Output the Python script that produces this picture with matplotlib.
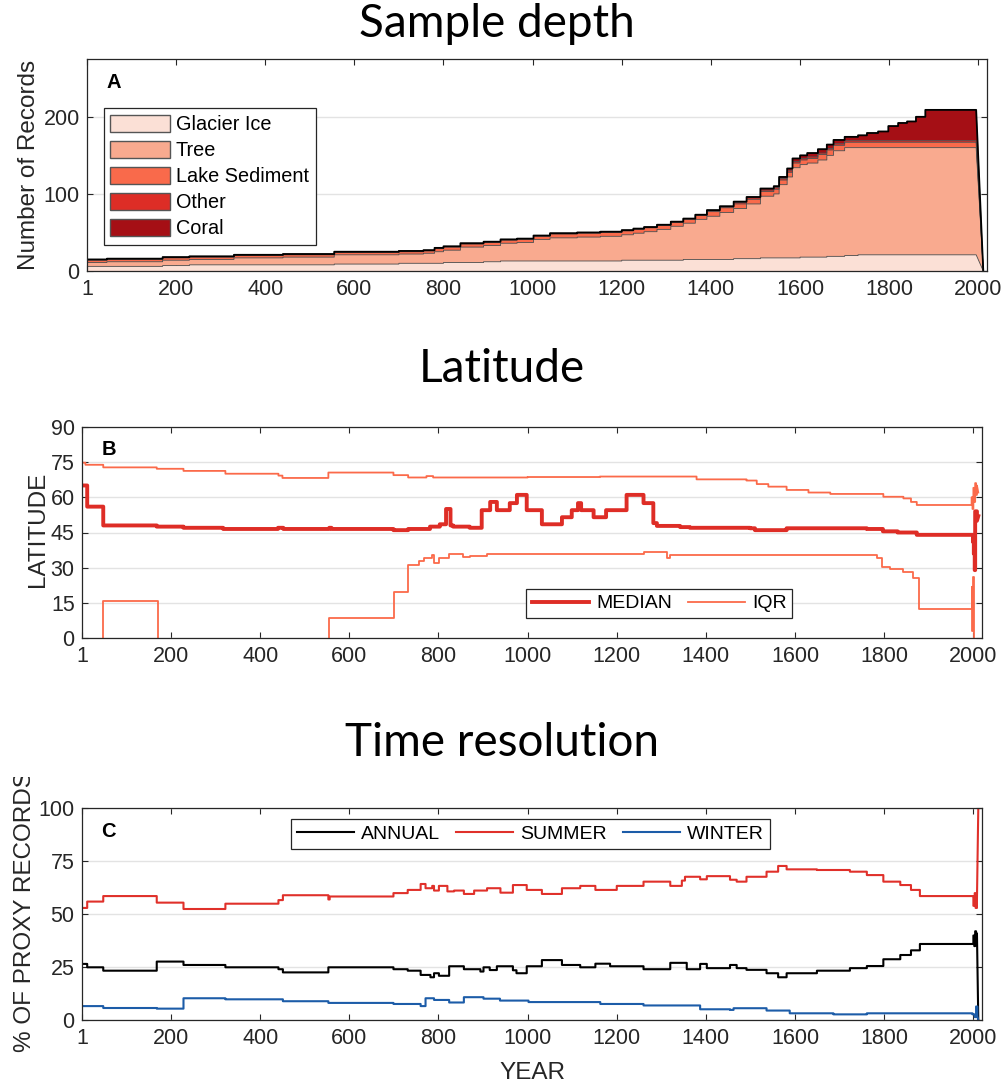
import numpy as np
import matplotlib
matplotlib.use("Agg")
import matplotlib.pyplot as plt
from matplotlib.patches import Patch
from matplotlib.lines import Line2D
from matplotlib.transforms import Bbox, TransformedBbox

plt.rcParams['font.family'] = ['Liberation Sans', 'DejaVu Sans']

# ---------------- A: sample depth (records per archive) ----------------
years_a = [1, 45, 170, 230, 330, 440, 555, 700, 755, 780, 800, 838, 890, 928, 965,
           1002, 1039, 1100, 1152, 1200, 1226, 1250, 1279, 1310, 1338, 1365, 1391,
           1420, 1451, 1480, 1511, 1541, 1553, 1571, 1583, 1600, 1616, 1640, 1660,
           1675, 1700, 1730, 1750, 1775, 1798, 1820, 1840, 1860, 1881, 1995, 2011]
glacier = [6, 6, 7, 8, 8, 8, 9, 10, 10, 10, 11, 11, 12, 13, 13,
           13, 13, 13, 13, 14, 14, 14, 14, 14, 15, 15, 15,
           15, 16, 16, 17, 17, 17, 17, 17, 18, 18, 18, 19,
           19, 20, 21, 21, 21, 21, 21, 21, 21, 21, 21, 0]
tree = [5, 6, 7, 7, 9, 10, 12, 12, 13, 15, 16, 20, 21, 23, 24,
        28, 30, 31, 32, 33, 35, 37, 40, 44, 47, 52, 56,
        61, 65, 71, 80, 83, 95, 105, 117, 120, 122, 126, 131,
        137, 140, 139, 139, 139, 139, 139, 139, 139, 139, 139, 0]
lake = [3, 3, 3, 3, 3, 3, 3, 3, 3, 4, 4, 4, 4, 4, 4,
        4, 5, 5, 5, 5, 5, 5, 5, 5, 5, 5, 6,
        6, 6, 6, 6, 6, 6, 6, 6, 6, 6, 7, 7,
        7, 7, 7, 7, 7, 7, 7, 7, 7, 7, 7, 0]
other = [1, 1, 1, 1, 1, 1, 1, 1, 1, 1, 1, 1, 1, 1, 1,
         1, 1, 1, 1, 1, 1, 1, 1, 1, 1, 1, 1,
         1, 2, 2, 2, 2, 2, 2, 2, 2, 2, 2, 2,
         2, 2, 2, 2, 2, 2, 2, 2, 2, 2, 2, 0]
coral = [0, 0, 0, 0, 0, 0, 0, 0, 0, 0, 0, 0, 0, 0, 0,
         0, 0, 0, 0, 0, 0, 0, 0, 0, 0, 0, 1,
         1, 1, 1, 2, 2, 2, 3, 4, 4, 5, 5, 5,
         5, 5, 7, 10, 12, 19, 23, 25, 31, 40, 40, 0]
archive_names = ['Glacier Ice', 'Tree', 'Lake Sediment', 'Other', 'Coral']
archive_colors = ['#fbe0d6', '#f9aa8f', '#f96a4b', '#dd2d26', '#a50f15']

# ---------------- B: latitude median and IQR ----------------
med_yr = [1, 12, 48, 168, 228, 317, 440, 452, 555, 560, 699, 732, 781, 803, 817,
          827, 833, 870, 897, 916, 931, 960, 976, 998, 1032, 1077, 1099, 1113,
          1120, 1148, 1176, 1222, 1260, 1282, 1290, 1342, 1364, 1499, 1510, 1581,
          1761, 1797, 1830, 1873, 1996, 1999, 2001, 2003, 2004, 2008, 2011]
med_lat = [65, 56, 48, 47.5, 47, 46.5, 47, 46.5, 47, 46.5, 46, 46.5, 47.5, 48.5, 55,
           48, 47.5, 47, 54.5, 58, 54.5, 57.5, 61, 54.5, 48.5, 51.5, 54.5, 57.5,
           54.5, 51.5, 54.5, 61, 57.5, 49, 47.8, 47.3, 47, 46.8, 46, 46.8,
           46.5, 45.5, 45, 44, 44, 41, 36, 29, 54, 50, 52]
up_yr = [1, 8, 48, 168, 228, 322, 441, 450, 553, 699, 732, 773, 788, 1000, 1162,
         1259, 1379, 1491, 1514, 1540, 1581, 1630, 1679, 1798, 1843, 1860, 1873,
         1996, 1998, 2000, 2002, 2004, 2006, 2008, 2011]
up_lat = [74.7, 73.8, 72.7, 72.1, 71.2, 70, 69.2, 68.2, 70.5, 69.4, 68.4, 69, 68.4, 68.6, 68.8,
          68.8, 67.6, 67.1, 65.6, 64.5, 63.1, 62, 61.4, 60.2, 59.5, 58, 56.7,
          60, 55, 64, 58, 66, 61, 65, 62]
lo_yr = [1, 48, 171, 554, 700, 731, 756, 767, 786, 790, 801, 824, 856, 871, 909,
         945, 1260, 1312, 1320, 1761, 1783, 1794, 1813, 1843, 1865, 1879, 1996,
         1998, 2000, 2002, 2011]
lo_lat = [-15, 16, -15, 8.5, 19.8, 31.2, 33, 34, 35.4, 32, 34, 35.8, 34.4, 35, 36,
          35.7, 36.7, 34, 35.6, 35.6, 34, 30.5, 29.3, 28.4, 25.5, 12.3, 22,
          3, 26, -10, -10]

# ---------------- C: seasonal resolution (% of proxy records) ----------------
sum_yr = [1, 12, 48, 168, 228, 322, 441, 451, 553, 556, 699, 731, 760, 771, 786,
          790, 801, 820, 835, 857, 880, 909, 939, 967, 998, 1032, 1077, 1118, 1152,
          1200, 1260, 1320, 1346, 1353, 1387, 1402, 1454, 1469, 1491, 1536, 1562,
          1581, 1649, 1723, 1761, 1798, 1836, 1860, 1880, 1998, 2000, 2003, 2005,
          2008, 2011]
summer = [53, 56, 58.6, 55.5, 52.5, 55, 56.7, 59, 57, 58.4, 60, 61.5, 64.3, 62.3, 63.4,
          61.2, 63.4, 60.8, 61.2, 59.6, 61.2, 62.3, 60.2, 63.8, 61.5, 59.6, 62.3, 63.4, 61.5,
          63.4, 65.4, 63.4, 65.9, 67.7, 66.5, 68, 66.3, 65.4, 67.7, 70.1, 72.8,
          71.2, 70.9, 70.1, 68.5, 65.4, 63.8, 61.5, 58.6, 58.6, 54, 60, 53,
          57, 100]
ann_yr = [1, 12, 48, 168, 228, 322, 441, 451, 553, 699, 731, 760, 782, 790, 801,
          824, 857, 894, 901, 915, 931, 967, 975, 998, 1032, 1077, 1118, 1152, 1185,
          1260, 1320, 1357, 1387, 1402, 1454, 1469, 1491, 1536, 1562, 1581, 1649,
          1723, 1761, 1798, 1836, 1860, 1880, 1998, 2000, 2002, 2004, 2006, 2008, 2011]
annual = [26.6, 25, 23.4, 27.7, 26.1, 25, 24.1, 22.6, 25, 24.1, 23.4, 21.4, 20.3, 22.2, 21,
          25.5, 24.1, 23, 25, 23.7, 25.5, 23.6, 22.2, 25.5, 28.4, 26.1, 25, 26.7, 25.5,
          24.1, 27.1, 24.1, 26.6, 24.6, 26.1, 24.6, 23.8, 22.2, 20.3, 22.2, 23.4,
          24.6, 25.6, 28.8, 30.8, 33, 36, 36, 40, 35, 42, 37, 41, 0]
win_yr = [1, 48, 168, 228, 322, 451, 553, 699, 760, 771, 790, 824, 857, 901, 938,
          1002, 1163, 1260, 1387, 1454, 1462, 1536, 1588, 1686, 1761, 1998, 2003,
          2006, 2009, 2011]
winter = [6.7, 5.8, 5.5, 10.4, 9.9, 9, 8.2, 7.7, 6.7, 10.4, 9.6, 8.4, 10.9, 10.2, 9.3,
          8.6, 7.7, 7, 5.2, 4.9, 5.7, 4.6, 3.3, 2.8, 3.3, 2.8, 1.5,
          6.5, 2, 0]

year_ticks = [1, 200, 400, 600, 800, 1000, 1200, 1400, 1600, 1800, 2000]
XMIN, XMAX = 1, 2020
AX_COLOR = '#262626'


def stairs(x, y):
    # stair-step path; last segment falls straight to the final value
    x = np.asarray(x, float)
    y = np.asarray(y, float)
    xs = np.repeat(x[:-1], 2)[1:]
    ys = np.repeat(y[:-1], 2)[:-1]
    return np.append(xs, x[-1]), np.append(ys, y[-1])


def style_axes(ax, yticks, ylim):
    ax.set_xlim(XMIN, XMAX)
    ax.set_ylim(*ylim)
    ax.set_xticks(year_ticks)
    ax.set_yticks(yticks)
    ax.tick_params(direction='in', length=4.5, width=0.8, color=AX_COLOR,
                   labelcolor=AX_COLOR, labelsize=15.5, pad=5.5,
                   top=True, right=True)
    for s in ax.spines.values():
        s.set_color(AX_COLOR)
        s.set_linewidth(0.9)
    ax.yaxis.grid(True, color='#e3e3e3', lw=1.0)
    ax.set_axisbelow(True)


def panel_letter(ax, letter):
    ax.text(0.021, 0.935, letter, transform=ax.transAxes, fontsize=14.5,
            fontweight='bold', va='top', ha='left', color='black')


def legend_box(leg):
    fr = leg.get_frame()
    fr.set_edgecolor(AX_COLOR)
    fr.set_linewidth(0.9)
    fr.set_boxstyle('square', pad=0)


line_leg_kw = dict(borderaxespad=0, fontsize=14, handlelength=2.95,
                   handletextpad=0.36, columnspacing=0.8, borderpad=0.3,
                   fancybox=False, framealpha=1)

W, H = 1005, 1083
fig = plt.figure(figsize=(W / 100, H / 100), dpi=100)

# ---- A ----
axA = fig.add_axes([87.3 / W, 1 - 271 / H, 900 / W, 212 / H])
layers = [glacier, tree, lake, other, coral]
base = np.zeros(len(years_a))
for vals, col in zip(layers, archive_colors):
    top = base + np.asarray(vals, float)
    xs, lo = stairs(years_a, base)
    _, hi = stairs(years_a, top)
    axA.fill_between(xs, lo, hi, facecolor=col, edgecolor='none', lw=0)
    axA.plot(xs, hi, color='#4a4a4a', lw=0.6)
    base = top
xs, tot = stairs(years_a, base)
axA.plot(xs, tot, color='black', lw=1.3)
style_axes(axA, [0, 100, 200], (0, 275))
axA.set_ylabel('Number of Records', fontsize=17.5, color=AX_COLOR)
axA.yaxis.set_label_coords(-0.052, 0.5)
panel_letter(axA, 'A')
handles = [Patch(facecolor=c, edgecolor='#555555', lw=1.0) for c in archive_colors]
legA = axA.legend(handles, archive_names, loc='upper left',
                  bbox_to_anchor=(0.018, 0.769), borderaxespad=0, fontsize=14.3,
                  handlelength=3.0, handleheight=0.95, handletextpad=0.3,
                  labelspacing=0.33, borderpad=0.35, fancybox=False,
                  framealpha=1)
legend_box(legA)

# ---- B ----
axB = fig.add_axes([82.3 / W, 1 - 638.3 / H, 900 / W, 211.6 / H])
x, y = stairs(up_yr, up_lat)
axB.plot(x, y, color='#fb6a4a', lw=1.3)
x, y = stairs(lo_yr, lo_lat)
axB.plot(x, y, color='#fb6a4a', lw=1.3)
x, y = stairs(med_yr, med_lat)
axB.plot(x, y, color='#de2d26', lw=2.8)
style_axes(axB, np.arange(0, 91, 15), (0, 90))
axB.set_ylabel('LATITUDE', fontsize=17.5, color=AX_COLOR)
axB.yaxis.set_label_coords(-0.037, 0.515)
panel_letter(axB, 'B')
legB = axB.legend([Line2D([], [], color='#de2d26', lw=2.8),
                   Line2D([], [], color='#fb6a4a', lw=1.3)],
                  ['MEDIAN', 'IQR'], ncol=2, loc='lower left',
                  bbox_to_anchor=(0.493, 0.0945), **line_leg_kw)
legend_box(legB)

# ---- C ----
axC = fig.add_axes([82.3 / W, 1 - 1020.3 / H, 900 / W, 212 / H])
x, y = stairs(sum_yr, summer)
axC.plot(x, y, color='#e0302a', lw=1.5)
x, y = stairs(ann_yr, annual)
axC.plot(x, y, color='black', lw=1.5)
x, y = stairs(win_yr, winter)
axC.plot(x, y, color='#1c5ca8', lw=1.5)
style_axes(axC, [0, 25, 50, 75, 100], (0, 100))
ylab = axC.set_ylabel('% OF PROXY RECORDS', fontsize=17.5, color=AX_COLOR)
axC.yaxis.set_label_coords(-0.051, 0.514)
# label runs past the top of its panel and is cut off there
ylab.set_clip_box(TransformedBbox(Bbox([[0, 0], [1, 1 - 777 / H]]), fig.transFigure))
ylab.set_clip_on(True)
axC.set_xlabel('YEAR', fontsize=17.5, color=AX_COLOR)
axC.xaxis.set_label_coords(0.5, -0.195)
panel_letter(axC, 'C')
legC = axC.legend([Line2D([], [], color='black', lw=1.5),
                   Line2D([], [], color='#e0302a', lw=1.5),
                   Line2D([], [], color='#1c5ca8', lw=1.5)],
                  ['ANNUAL', 'SUMMER', 'WINTER'], ncol=3, loc='upper left',
                  bbox_to_anchor=(0.232, 0.948), **line_leg_kw)
legend_box(legC)

# section titles
title_kw = dict(family=['Lato', 'DejaVu Sans'], fontsize=33, ha='center',
                va='baseline', color='black')
fig.text(497 / W, 1 - 37 / H, 'Sample depth', **title_kw)
fig.text(502 / W, 1 - 382 / H, 'Latitude', **title_kw)
fig.text(502 / W, 1 - 756 / H, 'Time resolution', **title_kw)

fig.savefig('out.png', dpi=100)
